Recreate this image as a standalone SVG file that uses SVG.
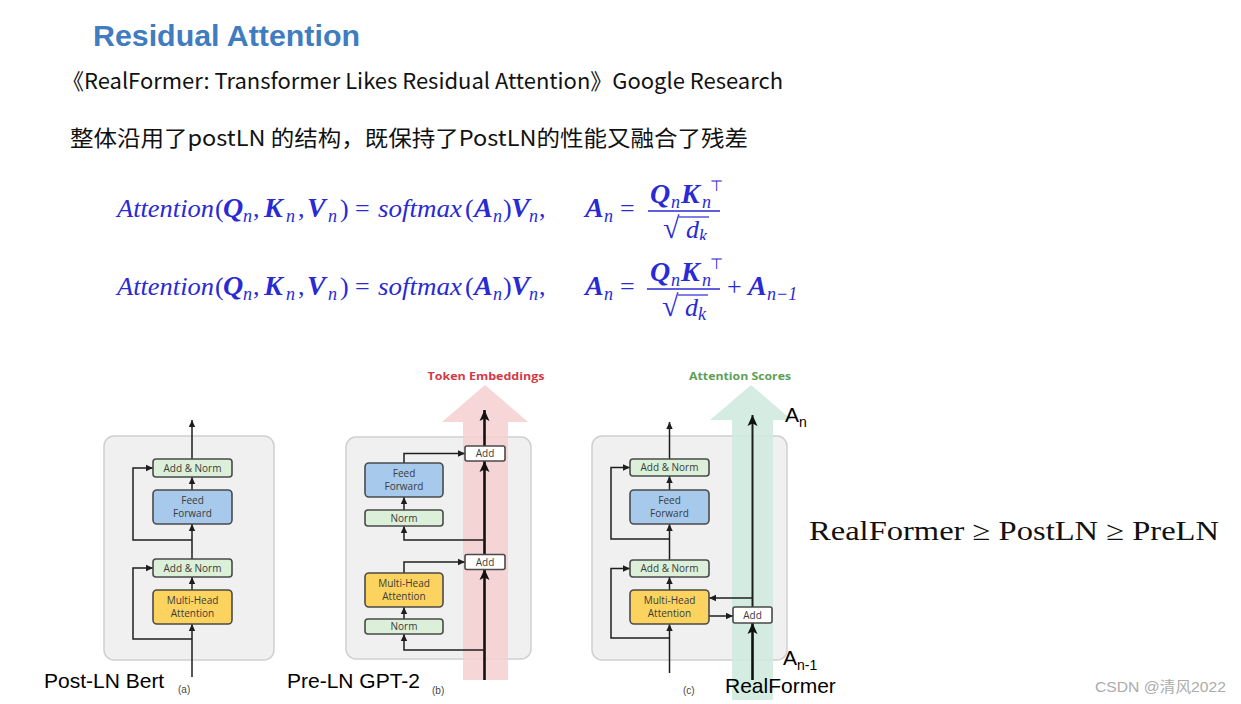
<svg xmlns="http://www.w3.org/2000/svg" width="1241" height="704" viewBox="0 0 1241 704">
<style>
.eq{font-family:"Liberation Serif",serif;font-size:26px;fill:#2a2ad4}
.i{font-style:italic}
.bi{font-style:italic;font-weight:bold;font-size:28px}
.sb{font-style:italic;font-size:18px}
.rad{font-size:30px}
.panel{fill:#f0f0f0;stroke:#cfcfcf;stroke-width:1.5}
.blk{stroke:#4a4a4a;stroke-width:1.6}
.an{fill:#dcefd8}
.ff{fill:#a6c9ec}
.mh{fill:#fcd35f}
.ad{fill:#ffffff}
.bt{font-family:"Open Sans","Roboto",sans-serif;font-size:10px;fill:#3b3b3b;text-anchor:middle}
.ln{fill:none;stroke:#1e1e1e;stroke-width:1.5}
.lnb{fill:none;stroke:#111;stroke-width:2.6}
.lbl{font-family:"Liberation Sans",Arial,sans-serif;font-size:21px;fill:#000}
.tag{font-family:"Liberation Sans",Arial,sans-serif;font-size:10px;fill:#444}
</style>
<defs>
<marker id="arr" markerWidth="8" markerHeight="8" refX="7" refY="4" orient="auto" markerUnits="userSpaceOnUse"><path d="M0,0.8 L7,4 L0,7.2 z" fill="#1e1e1e"/></marker>
<marker id="arrb" markerWidth="12" markerHeight="12" refX="11" refY="6" orient="auto" markerUnits="userSpaceOnUse"><path d="M0,1 L11,6 L0,11 L2.5,6 z" fill="#111"/></marker>
<clipPath id="clip1"><rect x="0" y="170" width="1241" height="70"/></clipPath>
</defs>
<rect width="1241" height="704" fill="#ffffff"/>

<g id="title">
<text x="93" y="46" font-family="Liberation Sans,Arial,sans-serif" font-size="30" font-weight="bold" fill="#3f7cc0" textLength="267" lengthAdjust="spacingAndGlyphs">Residual Attention</text>
<text x="62" y="89" font-family="Noto Sans CJK SC,Noto Sans,sans-serif" font-size="22" fill="#111" textLength="721" lengthAdjust="spacingAndGlyphs">《RealFormer: Transformer Likes Residual Attention》Google Research</text>
<text x="70" y="146" font-family="Noto Sans CJK SC,Noto Sans,sans-serif" font-size="22" fill="#111" textLength="678" lengthAdjust="spacingAndGlyphs">整体沿用了postLN 的结构，既保持了PostLN的性能又融合了残差</text>
</g>

<g id="eq1" class="eq" clip-path="url(#clip1)">
<text x="117" y="217" class="i" textLength="97" lengthAdjust="spacingAndGlyphs">Attention</text>
<text x="378" y="217" class="i" textLength="84" lengthAdjust="spacingAndGlyphs">softmax</text>
<text y="217"><tspan x="215">(</tspan><tspan x="223" class="bi">Q</tspan><tspan x="243" y="222" class="sb">n</tspan><tspan x="253" y="217">,</tspan><tspan x="264" class="bi">K</tspan><tspan x="286" y="222" class="sb">n</tspan><tspan x="298" y="217">,</tspan><tspan x="307" class="bi">V</tspan><tspan x="328" y="222" class="sb">n</tspan><tspan x="340" y="217">)</tspan><tspan x="355">=</tspan><tspan x="465">(</tspan><tspan x="474" class="bi">A</tspan><tspan x="493" y="222" class="sb">n</tspan><tspan x="503" y="217">)</tspan><tspan x="511" class="bi">V</tspan><tspan x="529" y="222" class="sb">n</tspan><tspan x="539" y="217">,</tspan><tspan x="585" class="bi">A</tspan><tspan x="604" y="222" class="sb">n</tspan><tspan x="620" y="217">=</tspan></text>
<text y="203"><tspan x="650" class="bi">Q</tspan><tspan x="671" y="208" class="sb">n</tspan><tspan x="681" y="203" class="bi">K</tspan></text>
<text y="208" class="sb" x="702">n</text>
<text y="191" x="710" font-size="15">⊤</text>
<line x1="648" y1="211" x2="720" y2="211" stroke="#2a2ad4" stroke-width="1.3"/>
<text y="238" class="rad" x="663">√</text>
<text y="238"><tspan x="686" class="i">d</tspan><tspan x="699" y="242" class="sb">k</tspan></text>
<line x1="679" y1="217" x2="709" y2="217" stroke="#2a2ad4" stroke-width="1.2"/>
</g>

<g id="eq2" class="eq">
<text x="117" y="295" class="i" textLength="97" lengthAdjust="spacingAndGlyphs">Attention</text>
<text x="378" y="295" class="i" textLength="84" lengthAdjust="spacingAndGlyphs">softmax</text>
<text y="295"><tspan x="215">(</tspan><tspan x="223" class="bi">Q</tspan><tspan x="243" y="300" class="sb">n</tspan><tspan x="253" y="295">,</tspan><tspan x="264" class="bi">K</tspan><tspan x="286" y="300" class="sb">n</tspan><tspan x="298" y="295">,</tspan><tspan x="307" class="bi">V</tspan><tspan x="328" y="300" class="sb">n</tspan><tspan x="340" y="295">)</tspan><tspan x="355">=</tspan><tspan x="465">(</tspan><tspan x="474" class="bi">A</tspan><tspan x="493" y="300" class="sb">n</tspan><tspan x="503" y="295">)</tspan><tspan x="511" class="bi">V</tspan><tspan x="529" y="300" class="sb">n</tspan><tspan x="539" y="295">,</tspan><tspan x="585" class="bi">A</tspan><tspan x="604" y="300" class="sb">n</tspan><tspan x="620" y="295">=</tspan><tspan x="727">+</tspan><tspan x="748" class="bi">A</tspan><tspan x="767" y="300" class="sb">n−1</tspan></text>
<text y="281"><tspan x="650" class="bi">Q</tspan><tspan x="671" y="286" class="sb">n</tspan><tspan x="681" y="281" class="bi">K</tspan></text>
<text y="286" class="sb" x="702">n</text>
<text y="269" x="710" font-size="15">⊤</text>
<line x1="647" y1="289" x2="720" y2="289" stroke="#2a2ad4" stroke-width="1.3"/>
<text y="316" class="rad" x="662">√</text>
<text y="316"><tspan x="685" class="i">d</tspan><tspan x="698" y="320" class="sb">k</tspan></text>
<line x1="678" y1="295" x2="708" y2="295" stroke="#2a2ad4" stroke-width="1.2"/>
</g>

<g id="compare">
<text x="809" y="540" font-family="Liberation Serif,serif" font-size="27" fill="#111" textLength="410" lengthAdjust="spacingAndGlyphs">RealFormer ≥ PostLN ≥ PreLN</text>
</g>

<g id="panel-a-bg"><rect class="panel" x="104" y="436" width="170" height="224" rx="10"/></g>
<g id="panel-b-bg"><rect class="panel" x="346" y="437" width="185" height="222" rx="10"/></g>
<g id="panel-c-bg"><rect class="panel" x="592" y="436" width="195" height="224" rx="10"/></g>
<g id="token-embeddings">
<path d="M463,680 V422 H442 L485,385 L528,422 H508 V680 Z" fill="#f5cfcf" fill-opacity="0.85"/>
<text x="486" y="380" font-family="Open Sans,Roboto,sans-serif" font-size="11" font-weight="bold" fill="#d23a48" text-anchor="middle" textLength="117" lengthAdjust="spacingAndGlyphs">Token Embeddings</text>
</g>
<g id="attention-scores">
<path d="M732,700 V420 H710 L751,385 L792,420 H773 V700 Z" fill="#cfeadf" fill-opacity="0.9"/>
<text x="740" y="380" font-family="Open Sans,Roboto,sans-serif" font-size="11" font-weight="bold" fill="#5e9e55" text-anchor="middle" textLength="102" lengthAdjust="spacingAndGlyphs">Attention Scores</text>
</g>

<g id="connectors">
<path class="ln" d="M192,677 V624" marker-end="url(#arr)"/>
<path class="ln" d="M192,590 V577" marker-end="url(#arr)"/>
<path class="ln" d="M192,559 V524" marker-end="url(#arr)"/>
<path class="ln" d="M192,490 V477" marker-end="url(#arr)"/>
<path class="ln" d="M192,459 V420" marker-end="url(#arr)"/>
<path class="ln" d="M192,639 H133 V568 H153" marker-end="url(#arr)"/>
<path class="ln" d="M192,540 H133 V468 H153" marker-end="url(#arr)"/>
<path class="lnb" d="M484.5,680 V569" marker-end="url(#arrb)"/>
<path class="lnb" d="M484.5,554 V461" marker-end="url(#arrb)"/>
<path class="lnb" d="M484.5,446 V410" marker-end="url(#arrb)"/>
<path class="ln" d="M484.5,650 H404 V634" marker-end="url(#arr)"/>
<path class="ln" d="M404,619 V607" marker-end="url(#arr)"/>
<path class="ln" d="M404,573 V562 H465" marker-end="url(#arr)"/>
<path class="ln" d="M484.5,540 H404 V526" marker-end="url(#arr)"/>
<path class="ln" d="M404,510 V497" marker-end="url(#arr)"/>
<path class="ln" d="M404,463 V453.5 H465" marker-end="url(#arr)"/>
<path class="ln" d="M669.5,673 V624" marker-end="url(#arr)"/>
<path class="ln" d="M669.5,590 V577" marker-end="url(#arr)"/>
<path class="ln" d="M669.5,560 V524" marker-end="url(#arr)"/>
<path class="ln" d="M669.5,490 V476" marker-end="url(#arr)"/>
<path class="ln" d="M669.5,459 V422" marker-end="url(#arr)"/>
<path class="ln" d="M669.5,638 H611 V568.5 H630" marker-end="url(#arr)"/>
<path class="ln" d="M669.5,539 H611 V467.5 H630" marker-end="url(#arr)"/>
<path class="lnb" d="M752.5,680 V623" marker-end="url(#arrb)"/>
<path class="ln" style="stroke-width:2" d="M752.5,607 V415" marker-end="url(#arrb)"/>
<path class="ln" d="M752.5,598 H709" marker-end="url(#arr)"/>
<path class="ln" d="M709,616 H733" marker-end="url(#arr)"/>
</g>

<g id="a-addnorm-top"><rect class="blk an" x="153" y="459" width="79" height="18" rx="3"/><text class="bt" x="192.5" y="471.5">Add &amp; Norm</text></g>
<g id="a-feedforward"><rect class="blk ff" x="153" y="490" width="79" height="34" rx="4"/><text class="bt" x="192.5" y="504">Feed</text><text class="bt" x="192.5" y="517">Forward</text></g>
<g id="a-addnorm-bottom"><rect class="blk an" x="153" y="559" width="79" height="18" rx="3"/><text class="bt" x="192.5" y="571.5">Add &amp; Norm</text></g>
<g id="a-mha"><rect class="blk mh" x="153" y="590" width="79" height="34" rx="4"/><text class="bt" x="192.5" y="604">Multi-Head</text><text class="bt" x="192.5" y="617">Attention</text></g>

<g id="b-add-top"><rect class="blk ad" x="465" y="446" width="40" height="15" rx="2"/><text class="bt" x="485" y="457">Add</text></g>
<g id="b-feedforward"><rect class="blk ff" x="365" y="463" width="78" height="34" rx="4"/><text class="bt" x="404" y="477">Feed</text><text class="bt" x="404" y="490">Forward</text></g>
<g id="b-norm-top"><rect class="blk an" x="365" y="510" width="78" height="16" rx="3"/><text class="bt" x="404" y="521.5">Norm</text></g>
<g id="b-add-bottom"><rect class="blk ad" x="465" y="554.5" width="40" height="15" rx="2"/><text class="bt" x="485" y="565.5">Add</text></g>
<g id="b-mha"><rect class="blk mh" x="365" y="573" width="78" height="34" rx="4"/><text class="bt" x="404" y="587">Multi-Head</text><text class="bt" x="404" y="600">Attention</text></g>
<g id="b-norm-bottom"><rect class="blk an" x="365" y="619" width="78" height="15" rx="3"/><text class="bt" x="404" y="630">Norm</text></g>

<g id="c-addnorm-top"><rect class="blk an" x="630" y="459" width="79" height="17" rx="3"/><text class="bt" x="669.5" y="471">Add &amp; Norm</text></g>
<g id="c-feedforward"><rect class="blk ff" x="630" y="490" width="79" height="34" rx="4"/><text class="bt" x="669.5" y="504">Feed</text><text class="bt" x="669.5" y="517">Forward</text></g>
<g id="c-addnorm-bottom"><rect class="blk an" x="630" y="560" width="79" height="17" rx="3"/><text class="bt" x="669.5" y="572">Add &amp; Norm</text></g>
<g id="c-mha"><rect class="blk mh" x="630" y="590" width="79" height="34" rx="4"/><text class="bt" x="669.5" y="604">Multi-Head</text><text class="bt" x="669.5" y="617">Attention</text></g>
<g id="c-add"><rect class="blk ad" x="733" y="607" width="39" height="16" rx="2"/><text class="bt" x="752.5" y="619">Add</text></g>

<g id="labels">
<text class="lbl" x="44" y="688">Post-LN Bert</text>
<text class="tag" x="178" y="693">(a)</text>
<text class="lbl" x="287" y="688">Pre-LN GPT-2</text>
<text class="tag" x="432" y="694">(b)</text>
<text class="tag" x="683" y="694">(c)</text>
<text class="lbl" x="725" y="693">RealFormer</text>
<text class="lbl" x="785" y="422">A<tspan font-size="14" dy="5">n</tspan></text>
<text class="lbl" x="783" y="665">A<tspan font-size="14" dy="5">n-1</tspan></text>
<text x="1095" y="692" font-family="Liberation Sans,Noto Sans CJK SC,sans-serif" font-size="15" fill="#ababab" textLength="131" lengthAdjust="spacingAndGlyphs">CSDN @清风2022</text>
</g>
</svg>
